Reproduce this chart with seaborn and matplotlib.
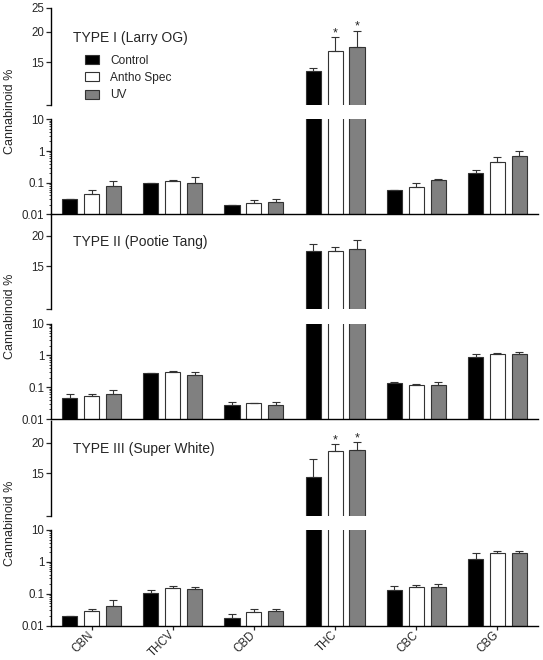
import pandas as pd
import matplotlib
matplotlib.use('Agg')
import matplotlib.pyplot as plt
import matplotlib.ticker as mticker
import seaborn as sns

# ---- данные (читались с картинки) ----
compounds = ['CBN', 'THCV', 'CBD', 'THC', 'CBC', 'CBG']
groups = ['Control', 'Antho Spec', 'UV']
panel_titles = ['TYPE I (Larry OG)', 'TYPE II (Pootie Tang)', 'TYPE III (Super White)']

# средние, %
type1_control = [0.030, 0.100, 0.020, 13.8, 0.059, 0.21]
type1_antho = [0.045, 0.110, 0.023, 16.6, 0.075, 0.45]
type1_uv = [0.082, 0.100, 0.025, 17.3, 0.120, 0.70]
type2_control = [0.047, 0.271, 0.027, 17.4, 0.136, 0.875]
type2_antho = [0.051, 0.291, 0.031, 17.3, 0.120, 1.11]
type2_uv = [0.059, 0.235, 0.027, 17.6, 0.120, 1.11]
type3_control = [0.0204, 0.108, 0.0173, 14.5, 0.128, 1.23]
type3_antho = [0.029, 0.147, 0.027, 18.5, 0.158, 1.84]
type3_uv = [0.042, 0.137, 0.029, 18.6, 0.166, 1.88]

# ошибки (только вверх)
type1_control_err = [0.0, 0.0, 0.0, 0.4, 0.0, 0.04]
type1_antho_err = [0.014, 0.014, 0.006, 2.4, 0.021, 0.19]
type1_uv_err = [0.031, 0.051, 0.006, 2.9, 0.012, 0.29]
type2_control_err = [0.013, 0.009, 0.006, 1.2, 0.006, 0.2]
type2_antho_err = [0.012, 0.029, 0.0, 0.75, 0.009, 0.06]
type2_uv_err = [0.023, 0.055, 0.006, 1.6, 0.026, 0.2]
type3_control_err = [0.0, 0.02, 0.0063, 2.6, 0.05, 0.61]
type3_antho_err = [0.004, 0.023, 0.006, 1.2, 0.025, 0.33]
type3_uv_err = [0.020, 0.021, 0.004, 1.5, 0.035, 0.34]

# звездочки: (панель, вещество, группа)
stars = [(0, 'THC', 'Antho Spec'), (0, 'THC', 'UV'),
         (2, 'THC', 'Antho Spec'), (2, 'THC', 'UV')]

means = [[type1_control, type1_antho, type1_uv],
         [type2_control, type2_antho, type2_uv],
         [type3_control, type3_antho, type3_uv]]
errs = [[type1_control_err, type1_antho_err, type1_uv_err],
        [type2_control_err, type2_antho_err, type2_uv_err],
        [type3_control_err, type3_antho_err, type3_uv_err]]

rows = []
for p in range(3):
    for g in range(3):
        for c in range(len(compounds)):
            rows.append({'panel': p, 'compound': compounds[c], 'group': groups[g],
                         'value': means[p][g][c], 'err': errs[p][g][c]})
df = pd.DataFrame(rows)

colors = {'Control': 'black', 'Antho Spec': 'white', 'UV': '#808080'}

sns.set_style('ticks')
plt.rcParams['font.family'] = ['Liberation Sans', 'DejaVu Sans']

W, H = 543, 660
fig = plt.figure(figsize=(W / 100, H / 100), dpi=100)
left, right = 51, 538
# (верх верхней оси, низ верхней оси, верх нижней оси, низ нижней оси, максимум верхней оси)
layout = [(8, 105, 119.3, 214.5, 25), (214.3, 309.3, 323.5, 419, 24.5), (421, 516, 530, 625.5, 24.5)]


def rect(top, bottom):
    return [left / W, 1 - bottom / H, (right - left) / W, (bottom - top) / H]


def draw_bars(ax, d):
    sns.barplot(data=d, x='compound', y='value', hue='group', order=compounds, hue_order=groups,
                palette=colors, width=0.81, gap=0.31, errorbar=None, edgecolor='#333333',
                linewidth=0.8, legend=False, ax=ax)
    ax.set_yscale('log')
    ax.set_xlim(-0.5, len(compounds) - 0.5)
    # ошибки поверх столбцов
    for bar in ax.patches:
        xc = bar.get_x() + bar.get_width() / 2
        ci = int(round(xc))
        gi = int(round((xc - ci) / 0.27)) + 1
        row = d[(d['compound'] == compounds[ci]) & (d['group'] == groups[gi])].iloc[0]
        ax.errorbar(xc, row['value'], yerr=[[0], [row['err']]], fmt='none', ecolor='#333333',
                    elinewidth=0.8, capsize=2.6, capthick=0.8, zorder=3)
    return ax


for p in range(3):
    d = df[df['panel'] == p]
    t_up, b_up, t_lo, b_lo, ymax = layout[p]

    ax_up = fig.add_axes(rect(t_up, b_up))
    ax_lo = fig.add_axes(rect(t_lo, b_lo))
    draw_bars(ax_up, d)
    draw_bars(ax_lo, d)

    # верхняя часть оси
    ax_up.set_ylim(10, ymax)
    ax_up.yaxis.set_minor_locator(mticker.NullLocator())
    if ymax >= 25:
        ax_up.set_yticks([10, 15, 20, 25], ['', '15', '20', '25'])
    else:
        ax_up.set_yticks([10, 15, 20], ['', '15', '20'])
    ax_up.yaxis.set_minor_locator(mticker.NullLocator())
    for s in ['top', 'right', 'bottom']:
        ax_up.spines[s].set_visible(False)
    ax_up.set_xticks([])
    ax_up.set_xlabel('')
    ax_up.set_ylabel('')

    # нижняя часть оси
    ax_lo.set_ylim(0.01, 10)
    ax_lo.set_yticks([0.01, 0.1, 1, 10], ['0.01', '0.1', '1', '10'])
    ax_lo.yaxis.set_minor_locator(mticker.LogLocator(base=10, subs=range(2, 10)))
    ax_lo.yaxis.set_minor_formatter(mticker.NullFormatter())
    for s in ['top', 'right']:
        ax_lo.spines[s].set_visible(False)
    ax_lo.set_xlabel('')
    ax_lo.set_ylabel('')
    if p == 2:
        ax_lo.set_xticks(range(len(compounds)))
        ax_lo.set_xticklabels(compounds, rotation=45, ha='right', va='center',
                              rotation_mode='anchor', fontsize=8.3)
        ax_lo.tick_params(axis='x', length=3, width=0.9, pad=2.5)
    else:
        ax_lo.set_xticks([])

    for ax in (ax_up, ax_lo):
        for s in ax.spines.values():
            s.set_linewidth(1.0)
            s.set_color('black')
        ax.tick_params(axis='y', which='major', length=3.5, width=0.9, labelsize=8.3, pad=1.5)
        ax.tick_params(axis='y', which='minor', length=1.8, width=0.6)
        ax.set_facecolor('none')

    ax_up.text(0.045, 18.9, panel_titles[p], transform=ax_up.get_yaxis_transform(),
               ha='left', va='center', fontsize=10)

    # звездочки
    for sp, comp, grp in stars:
        if sp != p:
            continue
        row = d[(d['compound'] == comp) & (d['group'] == grp)].iloc[0]
        xc = compounds.index(comp) + (groups.index(grp) - 1) * 0.27
        ax_up.annotate('*', xy=(xc, row['value'] + row['err']), xytext=(0, 0.5),
                       textcoords='offset points', ha='center', va='baseline', fontsize=9)

    if p == 0:
        handles = [plt.Rectangle((0, 0), 1, 1, facecolor=colors[g], edgecolor='#333333', linewidth=0.8)
                   for g in groups]
        ax_up.legend(handles, groups, loc='upper left', bbox_to_anchor=(0.07, 0.52), frameon=False,
                     fontsize=8.6, handlelength=1.2, handleheight=0.8, handletextpad=0.9,
                     labelspacing=0.45, borderpad=0, borderaxespad=0)

    fig.text(10 / W, 1 - (t_up + b_lo) / 2 / H, 'Cannabinoid %', rotation=90,
             ha='center', va='center', fontsize=9)

fig.savefig('out.png', dpi=100)
